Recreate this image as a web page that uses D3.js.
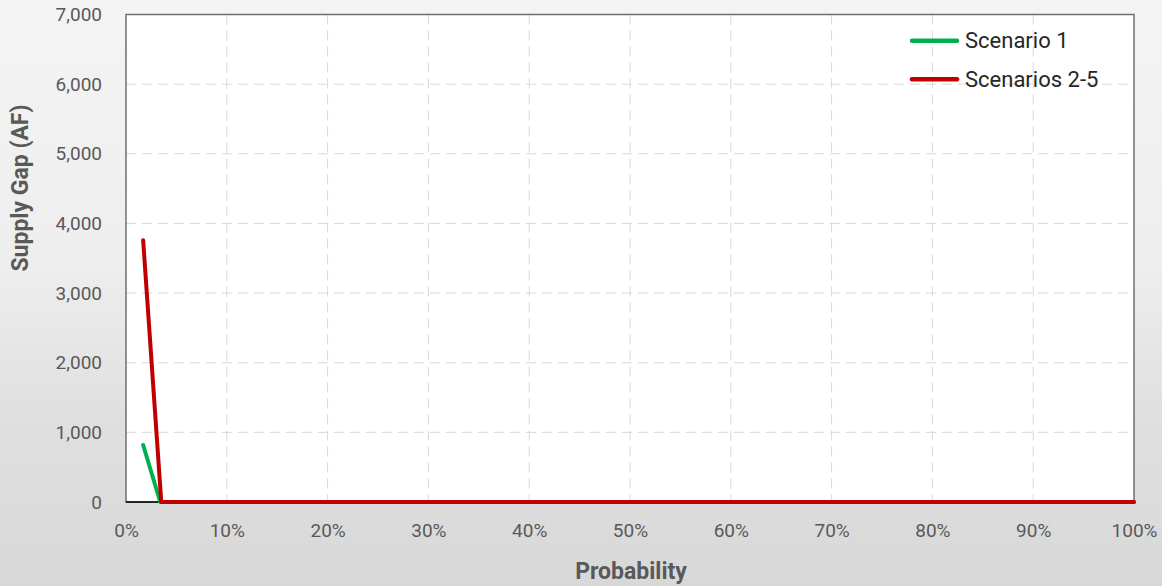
<!DOCTYPE html>
<html>
<head>
<meta charset="utf-8">
<script src="https://cdn.jsdelivr.net/npm/d3@7"></script>
<style>
  html, body { margin: 0; padding: 0; }
  body { width: 1162px; height: 586px; overflow: hidden; }
  svg { display: block; font-family: Roboto, "Noto Sans", sans-serif; }
</style>
</head>
<body>
<svg id="chart" width="1162" height="586"></svg>
<script>
// ---- Data ----
const probability = [0.017, 0.034, 0.035, 0.10, 0.20, 0.30, 0.40, 0.50, 0.60, 0.70, 0.80, 0.90, 1.00];
const scenario1 = [818, 0, 0, 0, 0, 0, 0, 0, 0, 0, 0, 0, 0];
const scenarios2to5Prob = [0.017, 0.035, 0.10, 0.20, 0.30, 0.40, 0.50, 0.60, 0.70, 0.80, 0.90, 1.00];
const scenarios2to5 = [3760, 0, 0, 0, 0, 0, 0, 0, 0, 0, 0, 0];
const yTicks = [0, 1000, 2000, 3000, 4000, 5000, 6000, 7000];
const xTicks = [0, 0.1, 0.2, 0.3, 0.4, 0.5, 0.6, 0.7, 0.8, 0.9, 1.0];
const seriesNames = ["Scenario 1", "Scenarios 2-5"];
const seriesColors = ["#00b050", "#c00000"];

const svg = d3.select("#chart");
const W = 1162, H = 586;
const m = { left: 126, right: 28, top: 14.5, bottom: 84 };
const iw = W - m.left - m.right, ih = H - m.top - m.bottom;

// background
const defs = svg.append("defs");
const grad = defs.append("linearGradient").attr("id", "bg").attr("x1", 0).attr("y1", 0).attr("x2", 0).attr("y2", 1);
grad.append("stop").attr("offset", "0%").attr("stop-color", "#f4f4f4");
grad.append("stop").attr("offset", "45%").attr("stop-color", "#eeeeee");
grad.append("stop").attr("offset", "70%").attr("stop-color", "#e0e0e0");
grad.append("stop").attr("offset", "100%").attr("stop-color", "#d8d8d8");
svg.append("rect").attr("width", W).attr("height", H).attr("fill", "url(#bg)");

const x = d3.scaleLinear().domain([0, 1]).range([m.left, m.left + iw]);
const y = d3.scaleLinear().domain([0, 7000]).range([m.top + ih, m.top]);

// plot area
svg.append("rect").attr("x", m.left).attr("y", m.top).attr("width", iw).attr("height", ih).attr("fill", "#ffffff");

// gridlines
const g = svg.append("g");
g.selectAll(".hg").data(yTicks.filter(d => d > 0 && d < 7000)).join("line")
  .attr("x1", m.left).attr("x2", m.left + iw)
  .attr("y1", d => y(d)).attr("y2", d => y(d))
  .attr("stroke", "#d9d9d9").attr("stroke-width", 1).attr("stroke-dasharray", "10,6");
g.selectAll(".vg").data(xTicks.filter(d => d > 0 && d < 1)).join("line")
  .attr("x1", d => x(d)).attr("x2", d => x(d))
  .attr("y1", m.top).attr("y2", m.top + ih)
  .attr("stroke", "#d9d9d9").attr("stroke-width", 1).attr("stroke-dasharray", "10,6");

// frame
svg.append("rect").attr("x", m.left).attr("y", m.top).attr("width", iw).attr("height", ih)
  .attr("fill", "none").attr("stroke", "#6f6f6f").attr("stroke-width", 1.5);
svg.append("line").attr("x1", m.left).attr("x2", m.left + iw).attr("y1", y(0)).attr("y2", y(0))
  .attr("stroke", "#000").attr("stroke-width", 1.5);

// axes
const yAxis = d3.axisLeft(y).tickValues(yTicks).tickFormat(d3.format(",")).tickSize(0).tickPadding(24);
const ya = svg.append("g").attr("transform", `translate(${m.left},0)`).call(yAxis);
ya.select(".domain").remove();
ya.selectAll("text").attr("font-size", 19).attr("fill", "#595959").attr("font-family", "Roboto, sans-serif");

const xAxis = d3.axisBottom(x).tickValues(xTicks).tickFormat(d3.format(".0%")).tickSize(0).tickPadding(22);
const xa = svg.append("g").attr("transform", `translate(0,${m.top + ih})`).call(xAxis);
xa.select(".domain").remove();
xa.selectAll("text").attr("font-size", 19).attr("fill", "#595959").attr("font-family", "Roboto, sans-serif");

// axis titles
svg.append("text").attr("transform", `translate(28,188) rotate(-90)`).attr("text-anchor", "middle")
  .attr("font-size", 23).attr("font-weight", "bold").attr("fill", "#595959").text("Supply Gap (AF)");
svg.append("text").attr("x", 631).attr("y", 579).attr("text-anchor", "middle")
  .attr("font-size", 23).attr("font-weight", "bold").attr("fill", "#595959").text("Probability");

// lines
const line = d3.line().x(d => x(d[0])).y(d => y(d[1]));
const s1 = probability.map((p, i) => [p, scenario1[i]]);
const s2 = scenarios2to5Prob.map((p, i) => [p, scenarios2to5[i]]);
svg.append("path").datum(s1).attr("d", line).attr("fill", "none")
  .attr("stroke", seriesColors[0]).attr("stroke-width", 4).attr("stroke-linecap", "round").attr("stroke-linejoin", "round");
svg.append("path").datum(s2).attr("d", line).attr("fill", "none")
  .attr("stroke", seriesColors[1]).attr("stroke-width", 4).attr("stroke-linecap", "round").attr("stroke-linejoin", "round");

// legend
const leg = svg.append("g");
seriesNames.forEach((name, i) => {
  const ly = 40.7 + i * 38.6;
  leg.append("line").attr("x1", 912).attr("x2", 957).attr("y1", ly).attr("y2", ly)
    .attr("stroke", seriesColors[i]).attr("stroke-width", 4.5).attr("stroke-linecap", "round");
  leg.append("text").attr("x", 965).attr("y", ly + 7.5).attr("font-size", 22).attr("fill", "#262626").text(name);
});
</script>
</body>
</html>
